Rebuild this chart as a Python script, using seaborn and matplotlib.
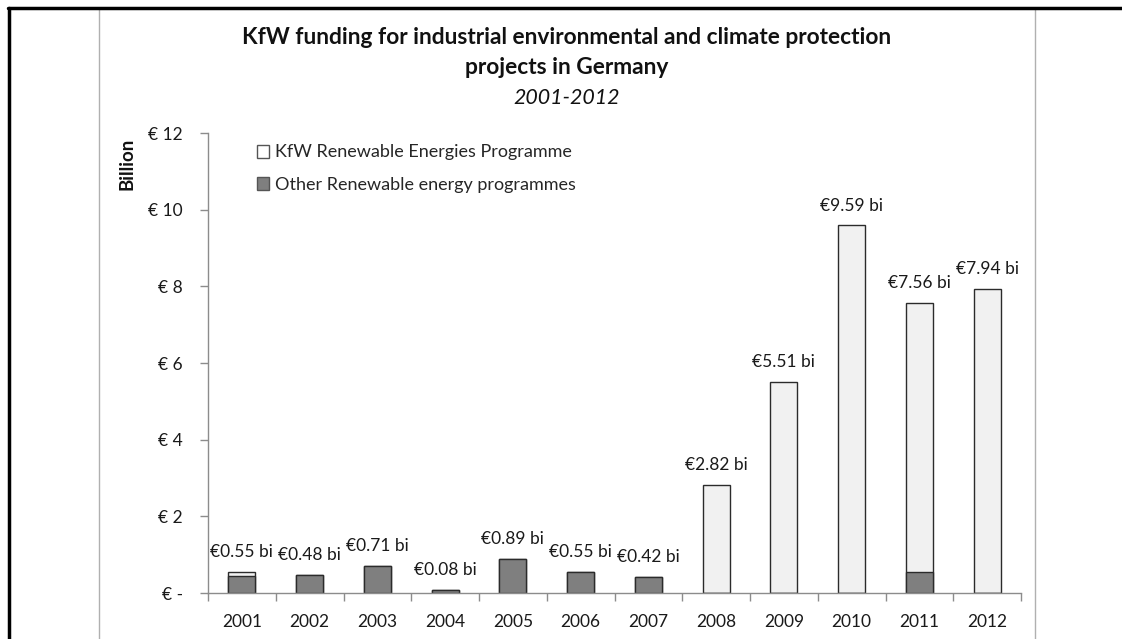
import matplotlib
matplotlib.use('Agg')
import matplotlib.pyplot as plt
from matplotlib.lines import Line2D
from matplotlib.patches import Patch
from matplotlib.ticker import FixedLocator
import pandas as pd
import seaborn as sns

# data (billion EUR)
anos = ['2001', '2002', '2003', '2004', '2005', '2006', '2007',
        '2008', '2009', '2010', '2011', '2012']
kfw_renovaveis = [0.10, 0.0, 0.0, 0.0, 0.0, 0.0, 0.0, 2.82, 5.51, 9.59, 7.01, 7.94]
outros_programas = [0.45, 0.48, 0.71, 0.08, 0.89, 0.55, 0.42, 0.0, 0.0, 0.0, 0.55, 0.0]
rotulos = ['€0.55 bi', '€0.48 bi', '€0.71 bi', '€0.08 bi', '€0.89 bi', '€0.55 bi',
           '€0.42 bi', '€2.82 bi', '€5.51 bi', '€9.59 bi', '€7.56 bi', '€7.94 bi']
ticks_y = [0, 2, 4, 6, 8, 10, 12]
rotulos_y = ['€ -', '€ 2', '€ 4', '€ 6', '€ 8', '€ 10', '€ 12']

df = pd.DataFrame({'Ano': anos, 'KfW': kfw_renovaveis, 'Outros': outros_programas})
df['Total'] = df['KfW'] + df['Outros']

sns.set_style('white')
plt.rcParams['font.family'] = ['Lato', 'DejaVu Sans']

cor_clara = '#f1f1f1'
cor_escura = '#7f7f7f'
cor_borda = '#2b2b2b'
cor_eixo = '#8c8c8c'

fig = plt.figure(figsize=(11.22, 6.39), dpi=100)
ax = fig.add_axes([208 / 1122, 46 / 639, 813 / 1122, 460 / 639])

# stacked bars: total (light) underneath, other programmes (dark) on top of it
sns.barplot(data=df, x='Ano', y='Total', color=cor_clara, saturation=1,
            width=0.4, edgecolor=cor_borda, linewidth=1, ax=ax)
sns.barplot(data=df, x='Ano', y='Outros', color=cor_escura, saturation=1,
            width=0.4, edgecolor=cor_borda, linewidth=1, ax=ax)

# data labels above each bar
for i, (total, texto) in enumerate(zip(df['Total'], rotulos)):
    ax.annotate(texto, (i, total), xytext=(0, 8.5), textcoords='offset points',
                ha='center', va='bottom', fontsize=12.5, color='#1a1a1a')

ax.set_xlim(-0.5, 11.5)
ax.set_ylim(0, 12)
ax.set_yticks(ticks_y)
ax.set_yticklabels(rotulos_y)
ax.set_xlabel('')
ax.set_ylabel('')

for lado in ['top', 'right']:
    ax.spines[lado].set_visible(False)
for lado in ['left', 'bottom']:
    ax.spines[lado].set_color(cor_eixo)
    ax.spines[lado].set_linewidth(1)

ax.tick_params(axis='y', which='major', left=True, length=6, width=1, color=cor_eixo,
               pad=12, labelsize=12.5, labelcolor='#1a1a1a')
ax.tick_params(axis='x', which='major', bottom=False, length=0, pad=15,
               labelsize=12.5, labelcolor='#1a1a1a')
ax.xaxis.set_minor_locator(FixedLocator([k - 0.5 for k in range(13)]))
ax.tick_params(axis='x', which='minor', bottom=True, length=6, width=1, color=cor_eixo)

# legend
handles = [Patch(facecolor='white', edgecolor='#555555', linewidth=1),
           Patch(facecolor=cor_escura, edgecolor='#555555', linewidth=1)]
ax.legend(handles, ['KfW Renewable Energies Programme', 'Other Renewable energy programmes'],
          loc='upper left', bbox_to_anchor=(0.06, 0.975), frameon=False, fontsize=13,
          handlelength=0.7, handleheight=0.7, handletextpad=0.3, labelspacing=0.9,
          borderpad=0, borderaxespad=0)

# titles
fig.text(567 / 1122, 1 - 37 / 639, 'KfW funding for industrial environmental and climate protection',
         ha='center', va='center', fontsize=16.4, fontweight='bold', color='#111111')
fig.text(567 / 1122, 1 - 68 / 639, 'projects in Germany',
         ha='center', va='center', fontsize=16.4, fontweight='bold', color='#111111')
fig.text(567 / 1122, 1 - 98 / 639, '2001-2012',
         ha='center', va='center', fontsize=15.4, style='italic', color='#111111')
fig.text(127 / 1122, 1 - 164 / 639, 'Billion', rotation=90, ha='center', va='center',
         fontsize=13.5, fontweight='bold', color='#111111')

# frames around the picture
fig.add_artist(Line2D([99 / 1122, 99 / 1122], [0, 1 - 9 / 639], color='#b0b0b0', lw=1))
fig.add_artist(Line2D([1035 / 1122, 1035 / 1122], [0, 1 - 9 / 639], color='#b0b0b0', lw=1))
fig.add_artist(Line2D([8 / 1122, 1], [1 - 8 / 639, 1 - 8 / 639], color='black', lw=2.5))
fig.add_artist(Line2D([8.5 / 1122, 8.5 / 1122], [0, 1 - 8 / 639], color='black', lw=2.5))

fig.savefig('out.png', dpi=100)
